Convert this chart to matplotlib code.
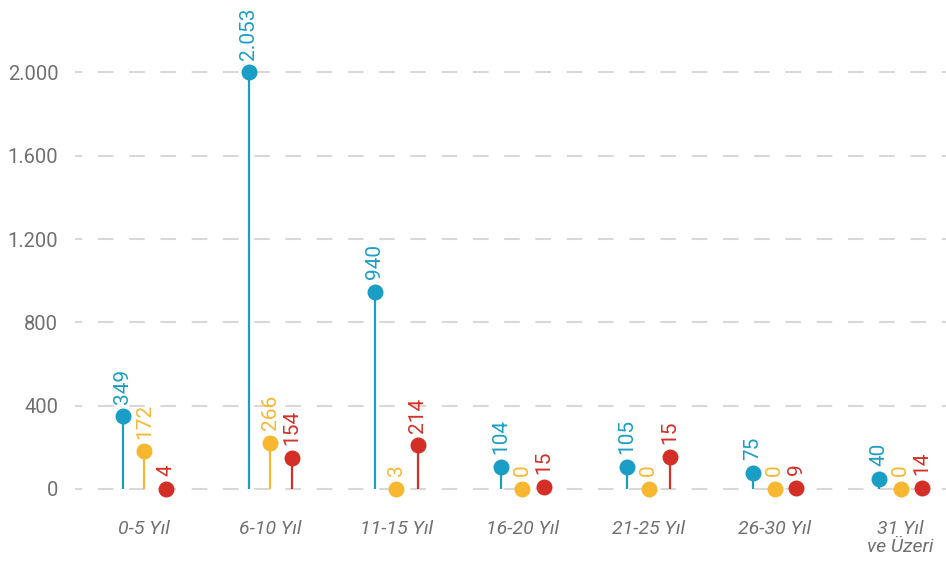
import numpy as np
import matplotlib.pyplot as plt

groups = ['0-5 Yıl', '6-10 Yıl', '11-15 Yıl', '16-20 Yıl', '21-25 Yıl', '26-30 Yıl', '31 Yıl\nve Üzeri']
# marker heights as drawn in the picture
blue_pos = [350, 2000, 946, 106, 106, 77, 48]
yellow_pos = [182, 221, 0, 0, 0, 0, 0]
red_pos = [0, 149, 211, 10, 154, 5, 5]
# printed labels
blue_lbl = ['349', '2.053', '940', '104', '105', '75', '40']
yellow_lbl = ['172', '266', '3', '0', '0', '0', '0']
red_lbl = ['4', '154', '214', '15', '15', '9', '14']

yticks = [0, 400, 800, 1200, 1600, 2000]
ytick_lbl = ['0', '400', '800', '1.200', '1.600', '2.000']

colors = ['#1b9ec6', '#f7b731', '#d42f26']
txt_gray = '#707070'
plt.rcParams['font.family'] = ['Roboto', 'DejaVu Sans']

fig = plt.figure(figsize=(9.46, 5.67), dpi=100)
# plot area: x 75..946 px, y 10..510 px
ax = fig.add_axes([75 / 946, (567 - 510) / 567, 871 / 946, 500 / 567])
ax.set_xlim(-0.55, 6.36)
ax.set_ylim(-101, 2300)

for yv in yticks:
    ax.axhline(yv, color='#d8d8d8', lw=1.5, linestyle=(4, (7.5, 7.5)), zorder=0)

x = np.arange(len(groups))
off = 0.171
series = [(blue_pos, blue_lbl, -off), (yellow_pos, yellow_lbl, 0), (red_pos, red_lbl, off)]
for (pos, lbl, dx), c in zip(series, colors):
    xs = x + dx
    ax.vlines(xs, 0, pos, color=c, lw=1.6, zorder=2)
    ax.plot(xs, pos, 'o', color=c, ms=11.5, mec='none', zorder=3, clip_on=False)
    for xi, yi, t in zip(xs, pos, lbl):
        ax.annotate(t, (xi, yi), xytext=(0, 9), textcoords='offset points',
                    rotation=90, ha='center', va='bottom', color=c, fontsize=15)

ax.set_yticks(yticks, ytick_lbl)
ax.set_xticks(x, groups)
ax.tick_params(axis='y', length=0, pad=12, labelsize=14.5, labelcolor=txt_gray)
ax.tick_params(axis='x', length=0, pad=7, labelsize=14, labelcolor=txt_gray)
for t in ax.get_xticklabels():
    t.set_fontstyle('italic')
    t.set_linespacing(1.0)
for s in ax.spines.values():
    s.set_visible(False)

fig.savefig('out.png', dpi=100)
